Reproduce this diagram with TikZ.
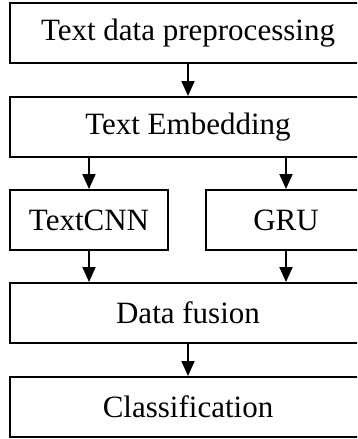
\documentclass[tikz,border=0pt]{standalone}
\usepackage{fontspec}
\setmainfont{Liberation Serif}
\usetikzlibrary{arrows.meta}

\begin{document}
\begin{tikzpicture}[x=1pt,y=-1pt,
  box/.style={draw,line width=2pt,minimum width=356pt,minimum height=60pt,
    inner sep=0pt,font=\fontsize{31}{36}\selectfont},
  half/.style={box,minimum width=158pt},
  flow/.style={-{Triangle[width=13pt,length=15pt]},line width=2pt}]
\clip (0,0) rectangle (357,439);
\node[box] (prep) at (188,33) {Text data preprocessing};
\node[box] (embed) at (188,127) {Text Embedding};
\node[half] (cnn) at (89,220) {TextCNN};
\node[half,minimum width=160pt] (gru) at (286,220) {GRU};
\node[box] (fusion) at (188,313) {Data fusion};
\node[box] (cls) at (188,407) {Classification};
% arrows between stages
\draw[flow] (prep) -- (embed);
\draw[flow] (embed.south -| cnn.north) -- (cnn);
\draw[flow] (embed.south -| gru.north) -- (gru);
\draw[flow] (cnn) -- (fusion.north -| cnn.south);
\draw[flow] (gru) -- (fusion.north -| gru.south);
\draw[flow] (fusion) -- (cls);
\end{tikzpicture}
\end{document}
